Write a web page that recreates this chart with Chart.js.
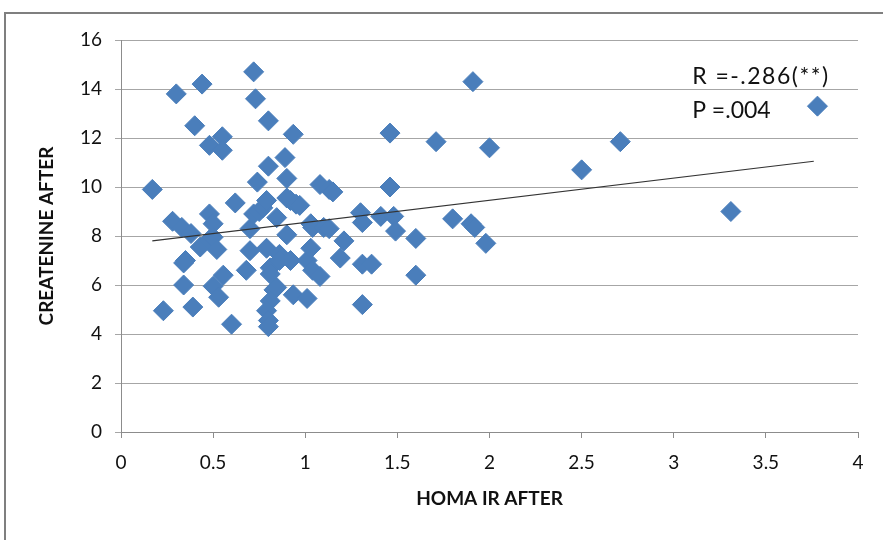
<!DOCTYPE html>
<html>
<head>
<meta charset="utf-8">
<script src="https://cdn.jsdelivr.net/npm/chart.js@4.4.1/dist/chart.umd.min.js"></script>
<style>
html,body{margin:0;padding:0;background:#fff;}
#wrap{width:883px;height:540px;position:relative;}
</style>
</head>
<body>
<div id="wrap"><canvas id="c" width="883" height="540"></canvas></div>
<script>
// HOMA IR AFTER (x) values
const homaIR = [0.17,0.23,0.28,0.30,0.33,0.34,0.35,0.34,0.38,0.39,0.40,0.43,0.44,0.48,0.48,0.48,0.50,0.50,0.52,0.50,
0.53,0.55,0.55,0.555,0.60,0.62,0.68,0.70,0.70,0.72,0.73,0.74,0.72,0.75,0.77,0.79,0.79,0.80,0.80,0.81,
0.81,0.83,0.81,0.79,0.80,0.80,0.845,0.845,0.86,0.86,0.89,0.90,0.90,0.90,0.92,0.92,0.935,0.935,0.95,0.97,
1.01,1.01,1.03,1.03,1.04,1.04,1.08,1.08,1.10,1.13,1.15,1.13,1.19,1.21,1.30,1.31,1.31,1.31,1.36,1.41,
1.46,1.46,1.48,1.49,1.60,1.60,1.71,1.80,1.91,1.90,1.92,1.98,2.00,2.50,2.71,3.31,3.78];
// CREATENINE AFTER (y) values
const creatinine = [9.9,4.95,8.6,13.8,8.35,6.9,7.0,6.0,8.1,5.1,12.5,7.55,14.2,11.7,8.9,7.85,8.5,7.95,7.45,5.95,
5.5,12.05,11.5,6.4,4.4,9.35,6.6,8.3,7.4,14.7,13.6,10.2,8.9,9.0,9.15,9.45,7.5,12.7,10.85,6.7,
6.45,5.8,5.35,4.95,4.55,4.3,8.75,5.9,7.25,7.0,11.2,10.35,9.55,8.05,9.45,7.0,12.15,5.6,9.3,9.25,
5.45,7.0,8.5,7.5,8.35,6.6,6.35,10.1,8.35,9.9,9.8,8.3,7.1,7.8,8.95,8.55,6.85,5.2,6.85,8.8,
12.2,10.0,8.8,8.2,7.9,6.4,11.85,8.7,14.3,8.5,8.35,7.7,11.6,10.7,11.85,9.0,13.3];
// Linear trend line end points (as drawn)
const trendX = [0.17, 3.76];
const trendY = [7.8, 11.05];
// Axis ticks
const xTicks = [0,0.5,1,1.5,2,2.5,3,3.5,4];
const yTicks = [0,2,4,6,8,10,12,14,16];
const annotations = ["R =-.286(**)", "P =.004"];
const xTitle = "HOMA IR AFTER";
const yTitle = "CREATENINE AFTER";

const points = homaIR.map((x,i)=>({x:x,y:creatinine[i]}));
const trend = trendX.map((x,i)=>({x:x,y:trendY[i]}));

const framePlugin = {
  id:'frame',
  beforeDraw(chart){
    const ctx = chart.ctx;
    ctx.save();
    ctx.fillStyle='#fff';
    ctx.fillRect(0,0,chart.width,chart.height);
    ctx.strokeStyle='#7f7f7f';
    ctx.lineWidth=2;
    ctx.strokeRect(5,13,chart.width+20,chart.height+20);
    ctx.restore();
  },
  afterDatasetsDraw(chart){
    const ctx = chart.ctx;
    const xs = chart.scales.x, ys = chart.scales.y;
    ctx.save();
    ctx.fillStyle='#111';
    ctx.font='23px Lato';
    ctx.textBaseline='middle';
    ctx.textAlign='left';
    ctx.letterSpacing='1.5px';
    ctx.fillText(annotations[0], xs.getPixelForValue(3.1), ys.getPixelForValue(14.5));
    ctx.letterSpacing='0px';
    ctx.fillText(annotations[1], xs.getPixelForValue(3.1), ys.getPixelForValue(13.1));
    ctx.restore();
  }
};

new Chart(document.getElementById('c'), {
  type:'scatter',
  data:{
    datasets:[
      {
        type:'line',
        data:trend,
        borderColor:'#333333',
        borderWidth:1.2,
        pointRadius:0,
        fill:false,
        order:0
      },
      {
        data:points,
        pointStyle:'rectRot',
        pointRadius:10,
        pointHoverRadius:10,
        backgroundColor:'#4a7ebb',
        borderColor:'#4a7ebb',
        borderWidth:1,
        order:1
      }
    ]
  },
  plugins:[framePlugin],
  options:{
    responsive:false,
    animation:false,
    devicePixelRatio:1,
    layout:{padding:{left:34,right:25,top:40,bottom:0}},
    plugins:{legend:{display:false},tooltip:{enabled:false}},
    scales:{
      x:{
        type:'linear',
        min:0,max:4,
        afterBuildTicks(s){ s.ticks = xTicks.map(v=>({value:v})); },
        afterFit(s){ s.height = 108; },
        ticks:{
          font:{family:'Lato',size:19},
          color:'#111',
          padding:13,
          maxRotation:0,
          callback:v=>String(v)
        },
        grid:{drawOnChartArea:false,drawTicks:true,tickLength:6,color:'#8c8c8c',lineWidth:1},
        border:{display:true,color:'#8c8c8c',width:1},
        title:{display:true,text:xTitle,font:{family:'Lato',size:19,weight:'bold'},color:'#111',padding:{top:0,bottom:30}}
      },
      y:{
        type:'linear',
        min:0,max:16,
        afterBuildTicks(s){ s.ticks = yTicks.map(v=>({value:v})); },
        afterFit(s){ s.width = 87; },
        ticks:{
          font:{family:'Lato',size:19},
          color:'#111',
          padding:13,
          callback:v=>String(v)
        },
        grid:{drawOnChartArea:true,drawTicks:true,tickLength:6,color:'#a6a6a6',lineWidth:1},
        border:{display:true,color:'#8c8c8c',width:1},
        title:{display:true,text:yTitle,font:{family:'Lato',size:19,weight:'bold'},color:'#111',padding:{top:1,bottom:0}}
      }
    }
  }
});
</script>
</body>
</html>
